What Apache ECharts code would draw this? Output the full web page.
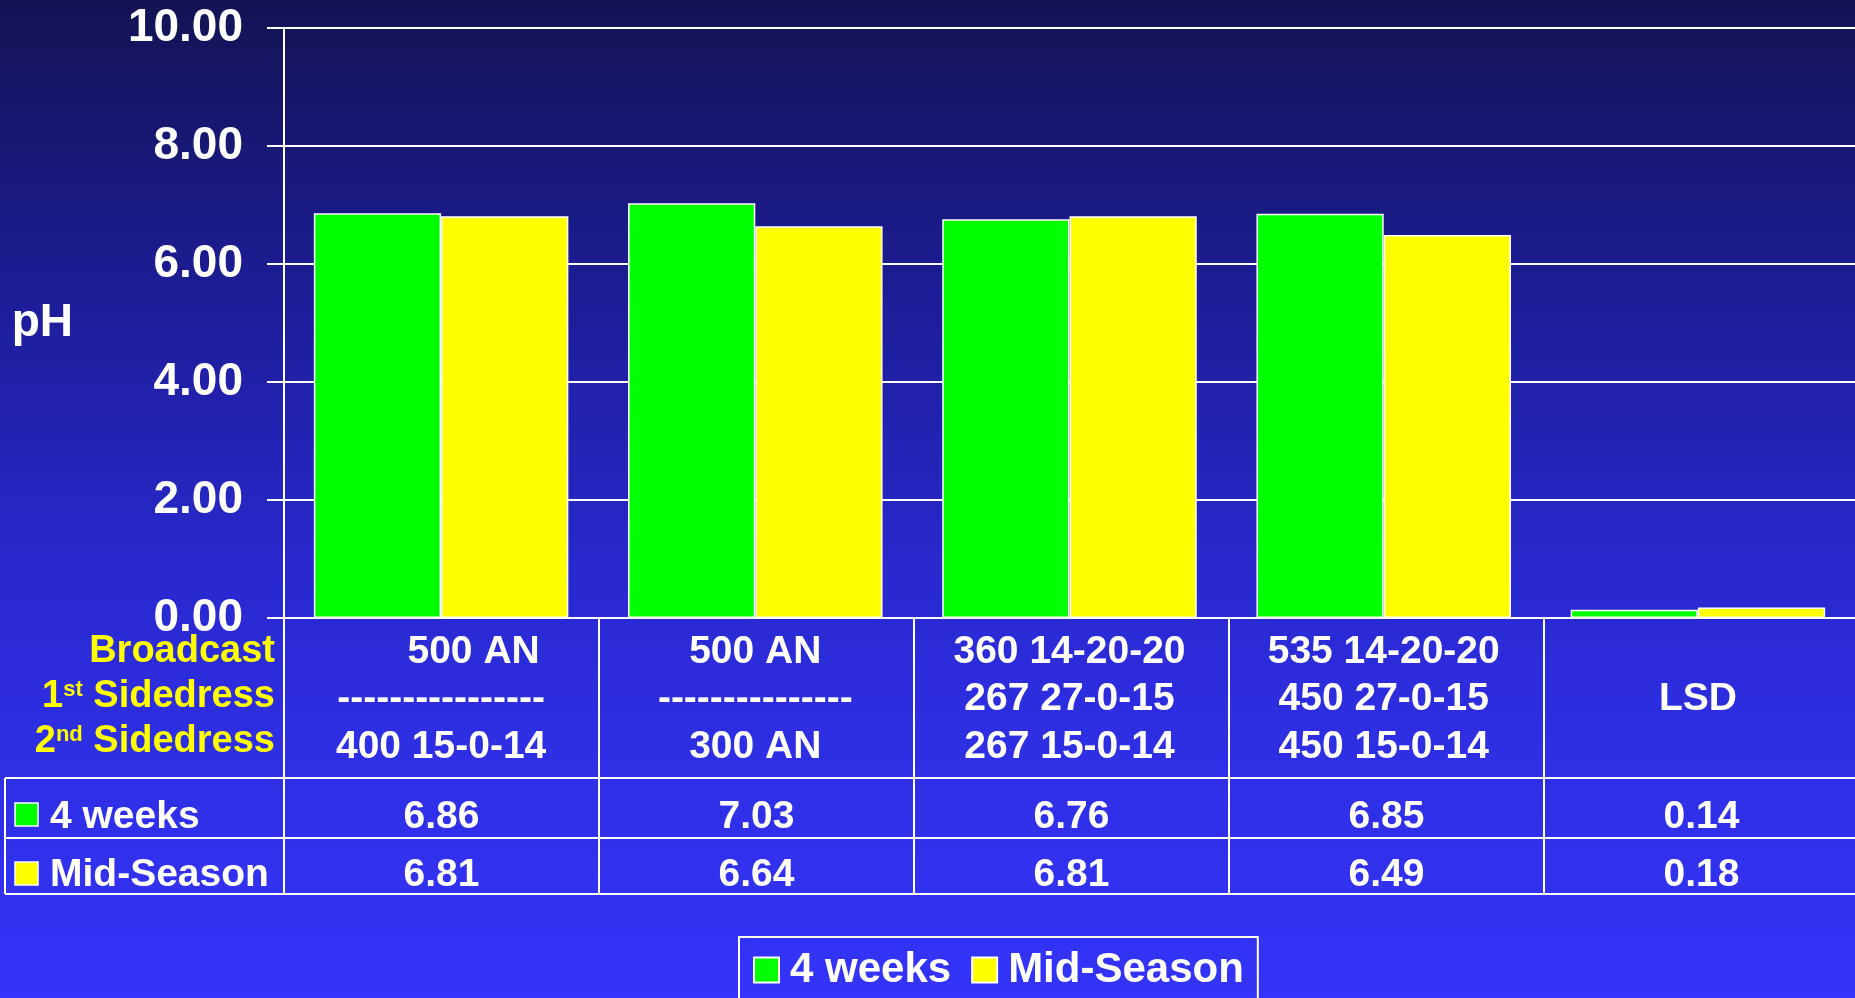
<!DOCTYPE html>
<html>
<head>
<meta charset="utf-8">
<script src="https://cdn.jsdelivr.net/npm/echarts@6/dist/echarts.min.js"></script>
<style>
  * { margin: 0; padding: 0; }
  html, body { width: 1855px; height: 998px; overflow: hidden; }
</style>
</head>
<body>
<div id="main" style="width: 1855px;height: 998px;"></div>
<script>
// data
var categories = [
  '      500 AN\n----------------\n400 15-0-14',
  '500 AN\n---------------\n300 AN',
  '360 14-20-20\n267 27-0-15\n267 15-0-14',
  '535 14-20-20\n450 27-0-15\n450 15-0-14',
  '\nLSD\n'
];
var weeks4 = [6.86, 7.03, 6.76, 6.85, 0.14];
var midSeason = [6.81, 6.64, 6.81, 6.49, 0.18];
var weeks4Text = ['6.86', '7.03', '6.76', '6.85', '0.14'];
var midSeasonText = ['6.81', '6.64', '6.81', '6.49', '0.18'];
var yTicks = [0, 2, 4, 6, 8, 10];

var W = 1855;
var gridLeft = 284, gridTop = 28, gridBottom = 380, gridRight = -4;
var axisY = 998 - gridBottom; // 618
var catW = (W - gridLeft - gridRight) / categories.length;
var font = '"Liberation Sans", Arial, sans-serif';

var chart = echarts.init(document.getElementById('main'));

// table lines + texts
var graphics = [];
function hline(x1, x2, y) {
  graphics.push({ type: 'line', shape: { x1: x1, y1: y, x2: x2, y2: y }, style: { stroke: '#fff', lineWidth: 2 }, z: 10 });
}
function vline(x, y1, y2) {
  graphics.push({ type: 'line', shape: { x1: x, y1: y1, x2: x, y2: y2 }, style: { stroke: '#fff', lineWidth: 2 }, z: 10 });
}
function txt(x, y, text, align, color, size) {
  graphics.push({ type: 'text', x: x, y: y, z: 10, style: {
    text: text, fill: color || '#fff', font: 'bold ' + (size || 39) + 'px ' + font,
    textAlign: align || 'center', textVerticalAlign: 'middle'
  } });
}
hline(5, W, 778);
hline(5, W, 838);
hline(5, W, 894);
vline(5, 778, 894);
vline(gridLeft, axisY, 894);
for (var i = 1; i < categories.length; i++) {
  vline(gridLeft + i * catW, axisY, 894);
}
for (var j = 0; j < categories.length; j++) {
  var cx = gridLeft + (j + 0.5) * catW;
  txt(cx, 817, weeks4Text[j]);
  txt(cx, 875, midSeasonText[j]);
}
// row labels
graphics.push({ type: 'rect', shape: { x: 15, y: 803, width: 23, height: 23 }, style: { fill: '#00ff00', stroke: '#fff', lineWidth: 1.5 }, z: 10 });
graphics.push({ type: 'rect', shape: { x: 15, y: 862, width: 23, height: 23 }, style: { fill: '#ffff00', stroke: '#fff', lineWidth: 1.5 }, z: 10 });
txt(50, 817, '4 weeks', 'left');
txt(50, 875, 'Mid-Season', 'left');
// header labels (yellow)
txt(275, 652, 'Broadcast', 'right', '#ffff00', 38);
graphics.push({ type: 'text', x: 275, y: 697, z: 10, style: {
  text: '{b|1}{s|st}{b| Sidedress}', textAlign: 'right', textVerticalAlign: 'middle',
  rich: {
    b: { fill: '#ffff00', font: 'bold 38px ' + font },
    s: { fill: '#ffff00', font: 'bold 22px ' + font, padding: [0, 0, 14, 0] }
  }
} });
graphics.push({ type: 'text', x: 275, y: 742, z: 10, style: {
  text: '{b|2}{s|nd}{b| Sidedress}', textAlign: 'right', textVerticalAlign: 'middle',
  rich: {
    b: { fill: '#ffff00', font: 'bold 38px ' + font },
    s: { fill: '#ffff00', font: 'bold 22px ' + font, padding: [0, 0, 14, 0] }
  }
} });

chart.setOption({
  backgroundColor: {
    type: 'linear', x: 0, y: 0, x2: 0, y2: 1,
    colorStops: [
      { offset: 0, color: '#131354' },
      { offset: 0.3, color: '#1d1d98' },
      { offset: 0.56, color: '#2828cc' },
      { offset: 0.7, color: '#2d2ddf' },
      { offset: 1, color: '#3434fa' }
    ]
  },
  animation: false,
  grid: { left: gridLeft, top: gridTop, right: gridRight, bottom: gridBottom },
  legend: {
    left: 739, top: 937,
    padding: [12, 14, 30, 14],
    borderColor: '#fff', borderWidth: 2,
    itemWidth: 25, itemHeight: 25, itemGap: 20,
    icon: 'rect',
    textStyle: { color: '#fff', fontSize: 42, fontWeight: 'bold', fontFamily: font, padding: [0, 0, 0, 6] },
    data: ['4 weeks', 'Mid-Season']
  },
  xAxis: {
    type: 'category',
    data: categories,
    axisLine: { lineStyle: { color: '#fff', width: 2 } },
    axisTick: { show: false },
    axisLabel: {
      color: '#fff', fontSize: 39, fontWeight: 'bold', fontFamily: font,
      lineHeight: 47.5, margin: 10, verticalAlign: 'top', interval: 0
    }
  },
  yAxis: {
    type: 'value', min: 0, max: 10, interval: 2,
    name: 'pH', nameLocation: 'middle', nameRotate: 0, nameGap: 211,
    nameTextStyle: { color: '#fff', fontSize: 46, fontWeight: 'bold', fontFamily: font },
    axisLine: { show: true, lineStyle: { color: '#fff', width: 2 } },
    axisTick: { show: true, length: 17, lineStyle: { color: '#fff', width: 2 } },
    splitLine: { lineStyle: { color: '#fff', width: 2 } },
    axisLabel: {
      color: '#fff', fontSize: 46, fontWeight: 'bold', fontFamily: font, margin: 41,
      padding: [4, 0, 0, 0],
      formatter: function (v) { return yTicks.indexOf(v) >= 0 ? v.toFixed(2) : ''; }
    }
  },
  series: [
    {
      name: '4 weeks', type: 'bar', data: weeks4,
      barGap: '0%', barCategoryGap: '19%',
      itemStyle: { color: '#00ff00', borderColor: '#fff', borderWidth: 1.5 }
    },
    {
      name: 'Mid-Season', type: 'bar', data: midSeason,
      itemStyle: { color: '#ffff00', borderColor: '#fff', borderWidth: 1.5 }
    }
  ],
  graphic: graphics
});
</script>
</body>
</html>
